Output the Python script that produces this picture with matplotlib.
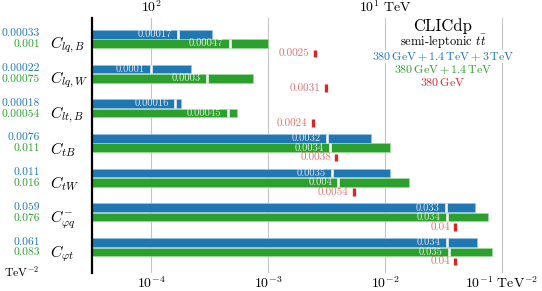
import numpy as np
import matplotlib
matplotlib.use('Agg')
import matplotlib.pyplot as plt
from matplotlib.ticker import NullLocator
from matplotlib.transforms import blended_transform_factory

plt.rcParams['font.family'] = 'serif'
plt.rcParams['font.serif'] = ['cmr10']
plt.rcParams['mathtext.fontset'] = 'cm'
plt.rcParams['axes.unicode_minus'] = False
plt.rcParams['axes.formatter.use_mathtext'] = True

# ---------------- data ----------------
operators = [r'$C_{lq,B}$', r'$C_{lq,W}$', r'$C_{lt,B}$', r'$C_{tB}$',
             r'$C_{tW}$', r'$C_{\varphi q}^{-}$', r'$C_{\varphi t}$']
blue_global = [0.00033, 0.00022, 0.00018, 0.0076, 0.011, 0.059, 0.061]
blue_single = [0.00017, 0.0001, 0.00016, 0.0032, 0.0035, 0.033, 0.034]
green_global = [0.001, 0.00075, 0.00054, 0.011, 0.016, 0.076, 0.083]
green_single = [0.00047, 0.0003, 0.00045, 0.0034, 0.004, 0.034, 0.035]
red_single = [0.0025, 0.0031, 0.0024, 0.0038, 0.0054, 0.04, 0.04]

bottom_ticks = [1e-4, 1e-3, 1e-2, 1e-1]
bottom_labels = [r'$10^{-4}$', r'$10^{-3}$', r'$10^{-2}$',
                 r'$10^{-1}\ \mathrm{TeV}^{-2}$']
top_ticks = [100, 10]
top_labels = [r'$10^{2}$', r'$10^{1}\ \mathrm{TeV}$']

legend_title = 'CLICdp'
legend_sub = r'semi-leptonic $t\bar{t}$'
legend_blue = r'$380\,\mathrm{GeV} + 1.4\,\mathrm{TeV} + 3\,\mathrm{TeV}$'
legend_green = r'$380\,\mathrm{GeV} + 1.4\,\mathrm{TeV}$'
legend_red = r'$380\,\mathrm{GeV}$'

BLUE = '#1f77b4'
GREEN = '#2ca02c'
RED = '#d62728'

W, H = 542, 291
fig = plt.figure(figsize=(W / 100, H / 100), dpi=100)
ax_left, ax_right, ax_top, ax_bot = 92, 510, 18, 273
ax = fig.add_axes([ax_left / W, 1 - ax_bot / H, (ax_right - ax_left) / W,
                   (ax_bot - ax_top) / H])

ax.set_xscale('log')
ax.set_xlim(10 ** -4.506, 10 ** -0.931)

n = len(operators)
y = np.arange(n)
off_green = 0.27
off_red = 0.55
h = 0.25
h_red = 0.22
ax.set_ylim(n - 1 + 0.88, -0.47)

# bars
base = 1e-7
ax.barh(y, np.array(blue_global) - base, left=base, height=h, color=BLUE,
        edgecolor='#9cc3e0', linewidth=0.5, zorder=2)
ax.barh(y + off_green, np.array(green_global) - base, left=base, height=h,
        color=GREEN, edgecolor='#a3d8a3', linewidth=0.5, zorder=2)

# white separators at single-parameter values
ax.vlines(blue_single, y - h / 2, y + h / 2, color='white', lw=1.8, zorder=3)
ax.vlines(green_single, y + off_green - h / 2, y + off_green + h / 2,
          color='white', lw=1.8, zorder=3)
# red markers
ax.vlines(red_single, y + off_red - h_red / 2, y + off_red + h_red / 2,
          color=RED, lw=2.4, zorder=3)

for i in range(n):
    ax.annotate(f'{blue_single[i]:g}', xy=(blue_single[i], y[i]),
                xytext=(-4.5, 0), textcoords='offset points', ha='right',
                va='center', fontsize=7.6, color='white', alpha=0.85, zorder=4)
    ax.annotate(f'{green_single[i]:g}', xy=(green_single[i], y[i] + off_green),
                xytext=(-4.5, 0), textcoords='offset points', ha='right',
                va='center', fontsize=7.6, color='white', alpha=0.85, zorder=4)
    ax.annotate(f'{red_single[i]:g}', xy=(red_single[i], y[i] + off_red),
                xytext=(-3.5, 0), textcoords='offset points', ha='right',
                va='center', fontsize=8, color=RED, alpha=0.65, zorder=4)

# left columns
tr = blended_transform_factory(fig.transFigure, ax.transData)
for i in range(n):
    fig.text(40 / W, y[i] - 0.02, f'{blue_global[i]:g}', transform=tr,
             ha='right', va='center', fontsize=8.3, color=BLUE)
    fig.text(40 / W, y[i] + off_green + 0.02, f'{green_global[i]:g}',
             transform=tr, ha='right', va='center', fontsize=8.3, color=GREEN)
    fig.text(50 / W, y[i] + 0.31, operators[i], transform=tr, ha='left',
             va='center', fontsize=11.5, color='black')
fig.text(39 / W, 1 - 272 / H, r'$\mathrm{TeV}^{-2}$', ha='right',
         va='center', fontsize=8.5)

# axes styling
for s in ['top', 'right', 'bottom']:
    ax.spines[s].set_visible(False)
ax.spines['left'].set_linewidth(1.6)
ax.set_yticks([])
ax.set_xticks(bottom_ticks, bottom_labels)
ax.xaxis.set_minor_locator(NullLocator())
ax.tick_params(axis='x', length=0, pad=1.5, labelsize=10)
ax.grid(axis='x', which='major', color='#c4c4c4', lw=0.8)
ax.set_axisbelow(True)


def c_to_lam(c):
    c = np.clip(np.asarray(c, dtype=float), 1e-300, None)
    return 1 / np.sqrt(c)


def lam_to_c(lam):
    lam = np.clip(np.asarray(lam, dtype=float), 1e-150, None)
    return 1 / np.square(lam)


sec = ax.secondary_xaxis('top', functions=(c_to_lam, lam_to_c))
sec.set_xticks(top_ticks, top_labels)
sec.xaxis.set_minor_locator(NullLocator())
sec.tick_params(length=0, pad=2.5, labelsize=10)
sec.spines['top'].set_visible(False)

# legend block
cx = 443 / W
fig.text(cx, 1 - 26 / H, legend_title, ha='center', va='center', fontsize=12)
fig.text(cx, 1 - 41.5 / H, legend_sub, ha='center', va='center', fontsize=9)
fig.text(cx, 1 - 56.5 / H, legend_blue, ha='center', va='center',
         fontsize=8.6, color=BLUE,
         bbox=dict(facecolor='white', edgecolor='none', pad=0.3))
fig.text(cx, 1 - 69.5 / H, legend_green, ha='center', va='center',
         fontsize=8.6, color=GREEN)
fig.text(cx, 1 - 82 / H, legend_red, ha='center', va='center', fontsize=8.6,
         color=RED)

fig.savefig('out.png', dpi=100)
